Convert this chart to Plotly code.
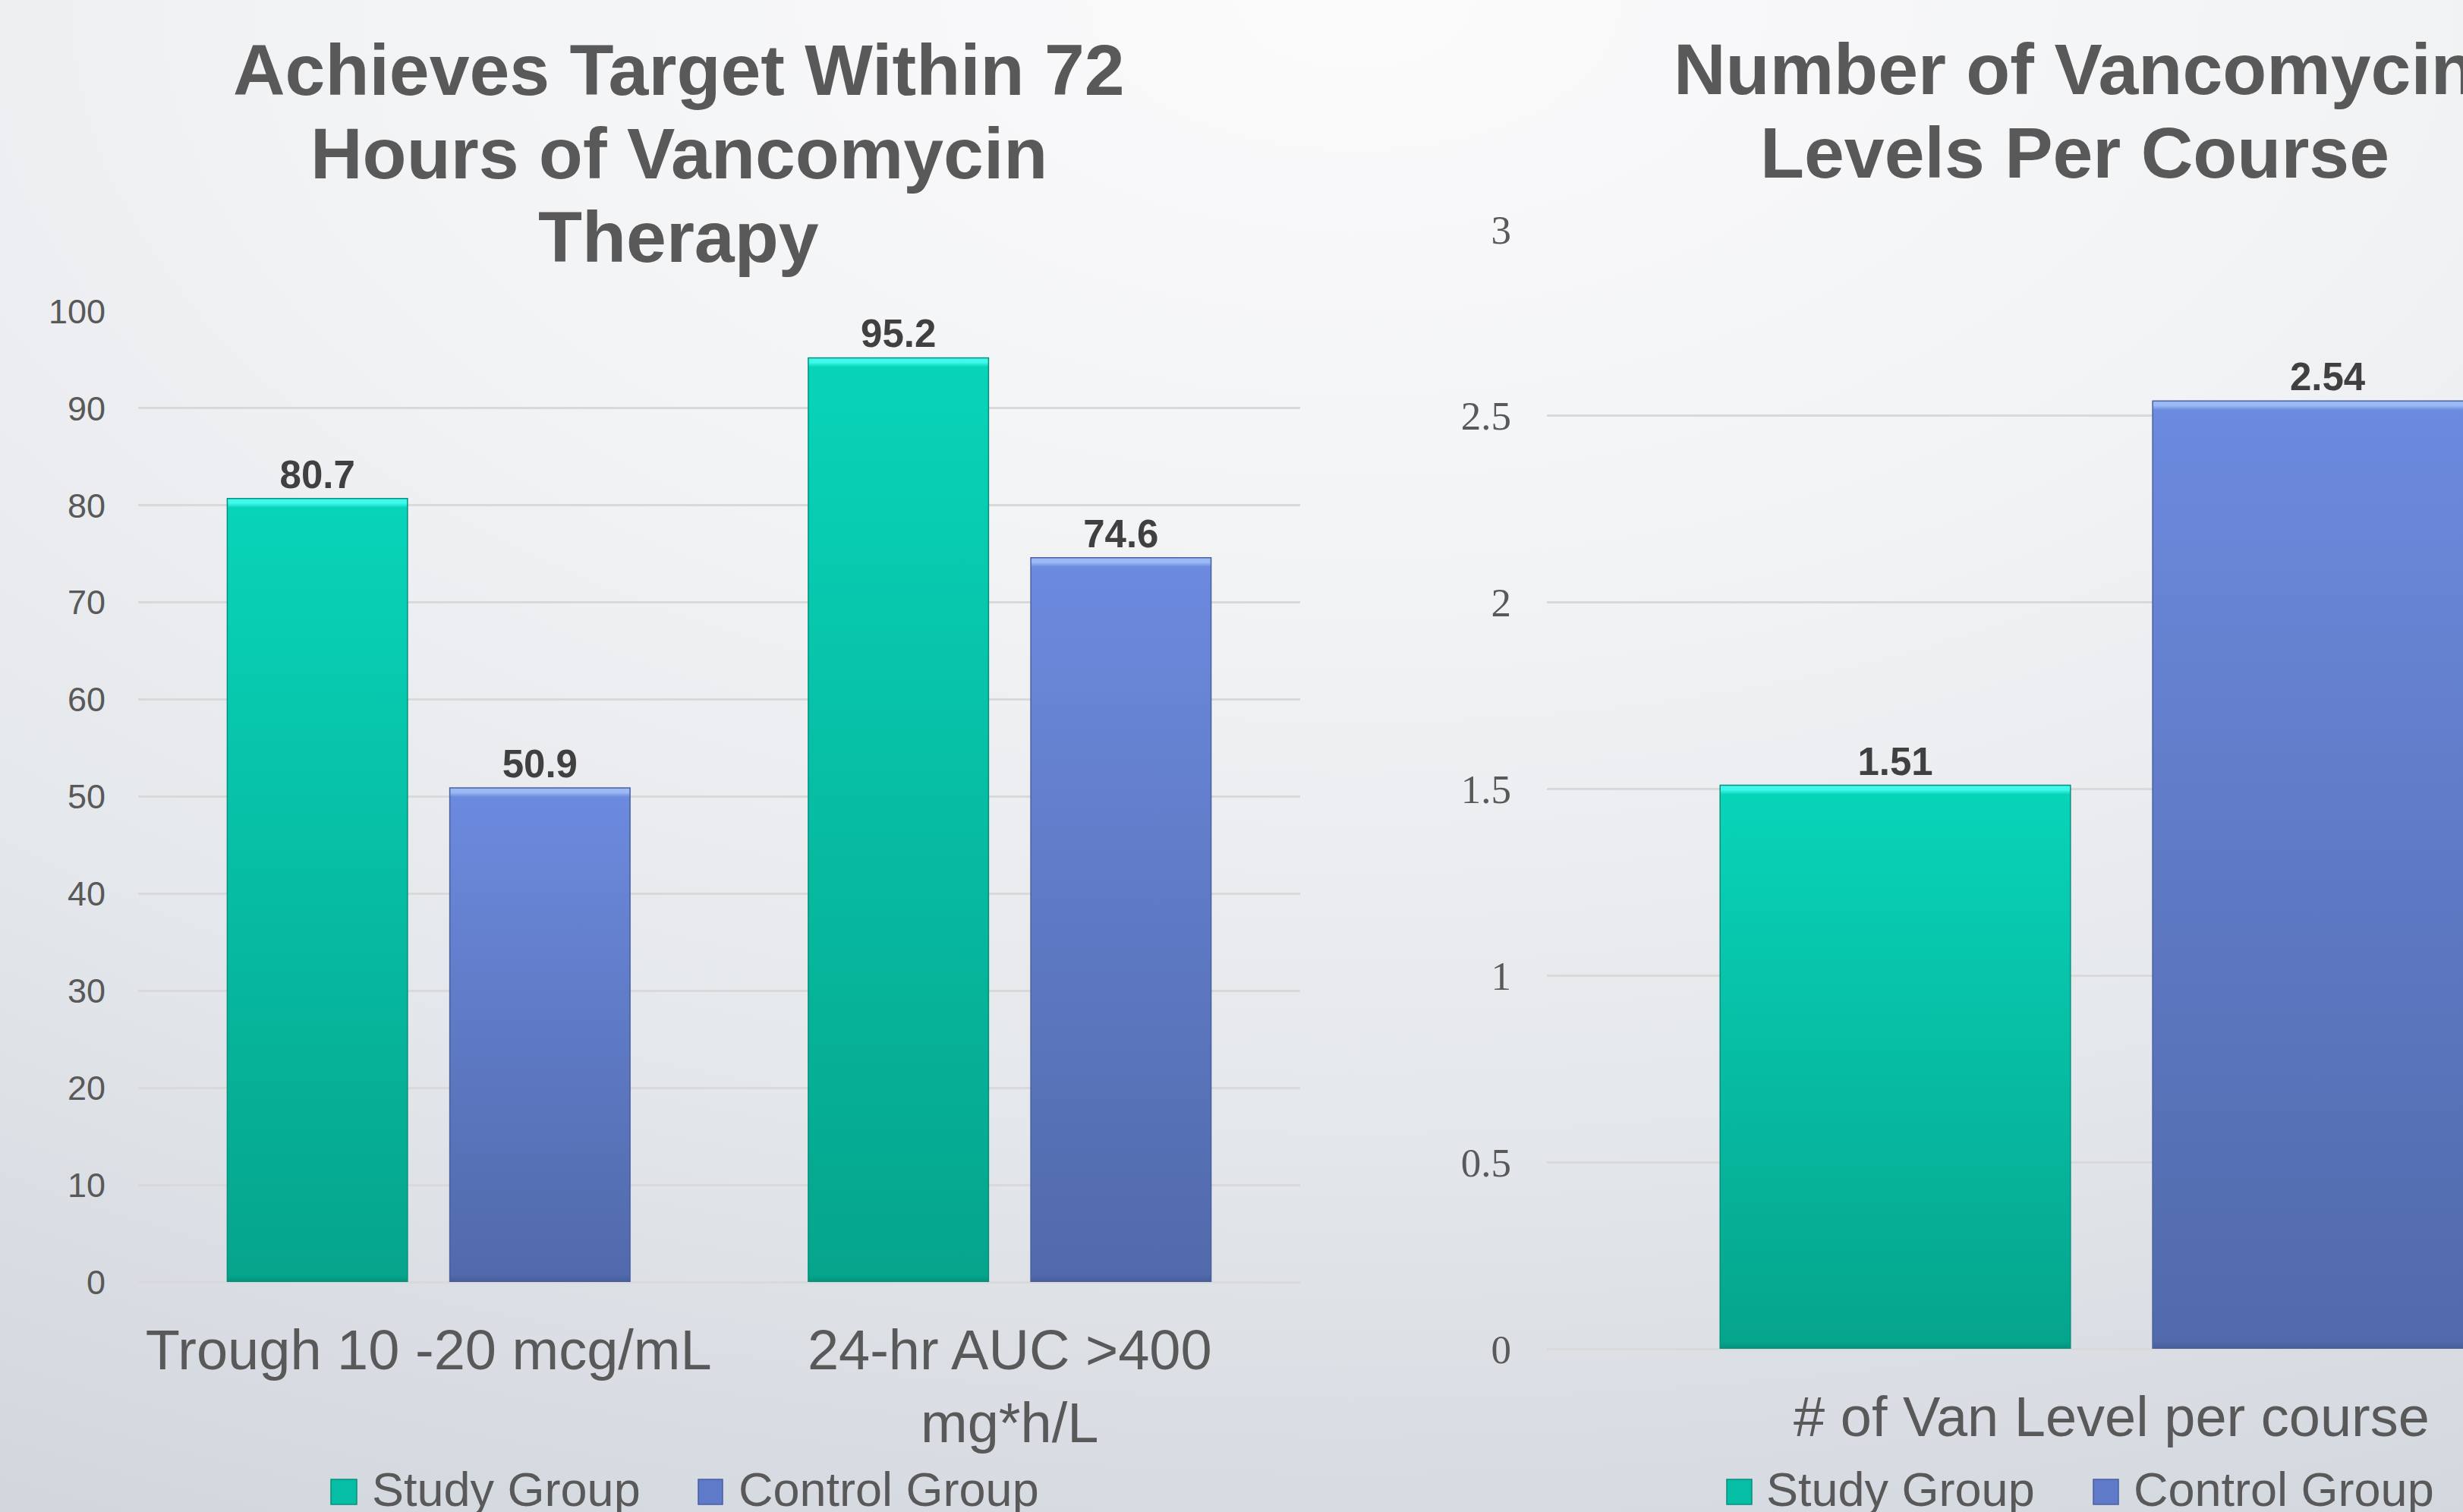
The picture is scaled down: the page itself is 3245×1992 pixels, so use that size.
import plotly.graph_objects as go

# ---- data -------------------------------------------------------------
groups = ["Study Group", "Control Group"]

target_categories = ["Trough 10 -20 mcg/mL", "24-hr AUC >400 mg*h/L"]
target_tick_labels = ["Trough 10 -20 mcg/mL", "24-hr AUC >400<br>mg*h/L"]
target_study = [80.7, 95.2]
target_control = [50.9, 74.6]
target_yticks = [0, 10, 20, 30, 40, 50, 60, 70, 80, 90, 100]

levels_categories = ["# of Van Level per course"]
levels_study = [1.51]
levels_control = [2.54]
levels_yticks = [0, 0.5, 1, 1.5, 2, 2.5, 3]
levels_ytick_labels = ["0", "0.5", "1", "1.5", "2", "2.5", "3"]

target_title_lines = ["Achieves Target Within 72", "Hours of Vancomycin", "Therapy"]
levels_title_lines = ["Number of Vancomycin", "Levels Per Course"]

# ---- styling ----------------------------------------------------------
W, H = 3245, 1992
SANS = "Liberation Sans, Arial, sans-serif"
SERIF = "Liberation Serif, Times New Roman, serif"
TEXT = "#595959"
LABEL = "#404040"
GRID = "#d9d9d9"

STUDY_FILL = "rgb(6, 190, 166)"
CONTROL_FILL = "rgb(95, 122, 200)"
STUDY_EDGE = "#078f7c"
CONTROL_EDGE = "#4a5f9f"


def fx(px):
    return px / W


def fy(px):
    return 1 - px / H


def baseline_center(baseline_px, size):
    # vertical centre of a text line box whose baseline sits at baseline_px
    return fy(baseline_px - 0.3465 * size)


fig = go.Figure()

for name, vals, fill, edge in [
    (groups[0], target_study, STUDY_FILL, STUDY_EDGE),
    (groups[1], target_control, CONTROL_FILL, CONTROL_EDGE),
]:
    fig.add_trace(go.Bar(
        name=name, x=target_categories, y=vals, xaxis="x", yaxis="y",
        marker=dict(color=fill, line=dict(color=edge, width=1.5)),
        texttemplate="%{y}", textposition="outside",
        textfont=dict(family=SANS, size=51, color=LABEL, weight="bold"),
        cliponaxis=False, showlegend=False,
    ))

for name, vals, fill, edge in [
    (groups[0], levels_study, STUDY_FILL, STUDY_EDGE),
    (groups[1], levels_control, CONTROL_FILL, CONTROL_EDGE),
]:
    fig.add_trace(go.Bar(
        name=name, x=levels_categories, y=vals, xaxis="x2", yaxis="y2",
        marker=dict(color=fill, line=dict(color=edge, width=1.5)),
        texttemplate="%{y}", textposition="outside",
        textfont=dict(family=SANS, size=51, color=LABEL, weight="bold"),
        cliponaxis=False, showlegend=False,
    ))

annotations = []

# chart titles, one annotation per line
for i, line in enumerate(target_title_lines):
    annotations.append(dict(
        text=line, xref="paper", yref="paper", x=fx(894), y=baseline_center(125 + 110 * i, 95),
        xanchor="center", yanchor="middle", showarrow=False,
        font=dict(family=SANS, size=95, color=TEXT, weight="bold"),
    ))
for i, line in enumerate(levels_title_lines):
    annotations.append(dict(
        text=line, xref="paper", yref="paper", x=fx(2733), y=baseline_center(124 + 110 * i, 95),
        xanchor="center", yanchor="middle", showarrow=False,
        font=dict(family=SANS, size=95, color=TEXT, weight="bold"),
    ))

# legends below each chart
shapes = []
legend_rows = [
    [(436, 470, 488), (920, 952, 971)],
    [(2275, 2308, 2325), (2758, 2791, 2809)],
]
swatches = [(STUDY_FILL, STUDY_EDGE), (CONTROL_FILL, CONTROL_EDGE)]
for row in legend_rows:
    for (sx0, sx1, tx), name, (fill, edge) in zip(row, groups, swatches):
        shapes.append(dict(
            type="rect", xref="paper", yref="paper",
            x0=fx(sx0), x1=fx(sx1), y0=fy(1982), y1=fy(1949),
            fillcolor=fill, line=dict(color=edge, width=1.5),
        ))
        annotations.append(dict(
            text=name, xref="paper", yref="paper", x=fx(tx), y=baseline_center(1984, 63),
            xanchor="left", yanchor="middle", showarrow=False,
            font=dict(family=SANS, size=63, color=TEXT),
        ))

fig.update_layout(
    width=W, height=H,
    margin=dict(l=0, r=0, t=0, b=0, pad=0, autoexpand=False),
    paper_bgcolor="#e9ecf0",
    plot_bgcolor="rgba(0,0,0,0)",
    barmode="group", bargap=0.234, bargroupgap=0.19,
    showlegend=False,
    annotations=annotations,
    shapes=shapes,
    xaxis=dict(
        domain=[fx(182), fx(1713)], anchor="y", type="category",
        range=[-0.5, 1.5], tickvals=target_categories, ticktext=target_tick_labels,
        tickfont=dict(family=SANS, size=74, color=TEXT),
        showgrid=False, showline=False, zeroline=False, ticks="",
        ticklabelstandoff=40, automargin=False,
    ),
    yaxis=dict(
        domain=[fy(1689), fy(410)], anchor="x", range=[0, 100],
        tickvals=target_yticks,
        tickfont=dict(family=SANS, size=45, color=TEXT),
        showgrid=True, gridcolor=GRID, gridwidth=2.5,
        zeroline=True, zerolinecolor=GRID, zerolinewidth=2.5,
        showline=False, ticks="", ticklabelstandoff=42, automargin=False,
    ),
    xaxis2=dict(
        domain=[fx(2038), 1], anchor="y2", type="category",
        range=[-0.5, 0.3112], tickvals=levels_categories, ticktext=levels_categories,
        tickfont=dict(family=SANS, size=74, color=TEXT),
        showgrid=False, showline=False, zeroline=False, ticks="",
        ticklabelstandoff=40, automargin=False,
    ),
    yaxis2=dict(
        domain=[fy(1777), fy(302)], anchor="x2", range=[0, 3],
        tickvals=levels_yticks, ticktext=levels_ytick_labels,
        tickfont=dict(family=SERIF, size=53, color=TEXT),
        showgrid=True, gridcolor=GRID, gridwidth=2.5,
        zeroline=True, zerolinecolor=GRID, zerolinewidth=2.5,
        showline=False, ticks="", ticklabelstandoff=46, automargin=False,
    ),
)

# soft page gradient behind the charts and bevelled vertical shading on the bars
post_script = r"""
var gd = document.getElementById('{plot_id}');
gd.style.background = 'radial-gradient(ellipse 120% 110% at 55% 0%, #fbfbfc 0%, #f2f3f5 35%, #e4e7eb 68%, #d2d7de 100%)';
gd.querySelectorAll('.main-svg').forEach(function (s) { s.style.background = 'transparent'; });
var NS = 'http://www.w3.org/2000/svg';
var svg = gd.querySelector('.main-svg');
var defs = svg.querySelector('defs');
if (!defs) { defs = document.createElementNS(NS, 'defs'); svg.insertBefore(defs, svg.firstChild); }
var shades = {
  'rgb(6, 190, 166)': ['#3ff9ec', '#14e0c8', '#08d4b9', '#05a58c', '#03937c'],
  'rgb(95, 122, 200)': ['#9ab9f5', '#7898e4', '#6c8ade', '#516aab', '#465d99']
};
var n = 0;
gd.querySelectorAll('.barlayer .point path').forEach(function (p) {
  var sh = shades[p.style.fill];
  if (!sh) return;
  var b = p.getBBox();
  if (!b.height) return;
  var g = document.createElementNS(NS, 'linearGradient');
  var id = 'barshade' + (n++);
  g.setAttribute('id', id);
  g.setAttribute('gradientUnits', 'userSpaceOnUse');
  g.setAttribute('x1', 0); g.setAttribute('x2', 0);
  g.setAttribute('y1', b.y); g.setAttribute('y2', b.y + b.height);
  var t = Math.min(0.2, 6 / b.height), bev = Math.min(0.3, 12 / b.height), bot = Math.max(0.7, 1 - 10 / b.height);
  [[0, sh[0]], [t, sh[0]], [bev, sh[2]], [bot, sh[3]], [1, sh[4]]].forEach(function (s) {
    var st = document.createElementNS(NS, 'stop');
    st.setAttribute('offset', s[0]);
    st.setAttribute('stop-color', s[1]);
    g.appendChild(st);
  });
  defs.appendChild(g);
  p.style.fill = 'url(#' + id + ')';
});
"""

fig.write_html("out.html", post_script=post_script)
